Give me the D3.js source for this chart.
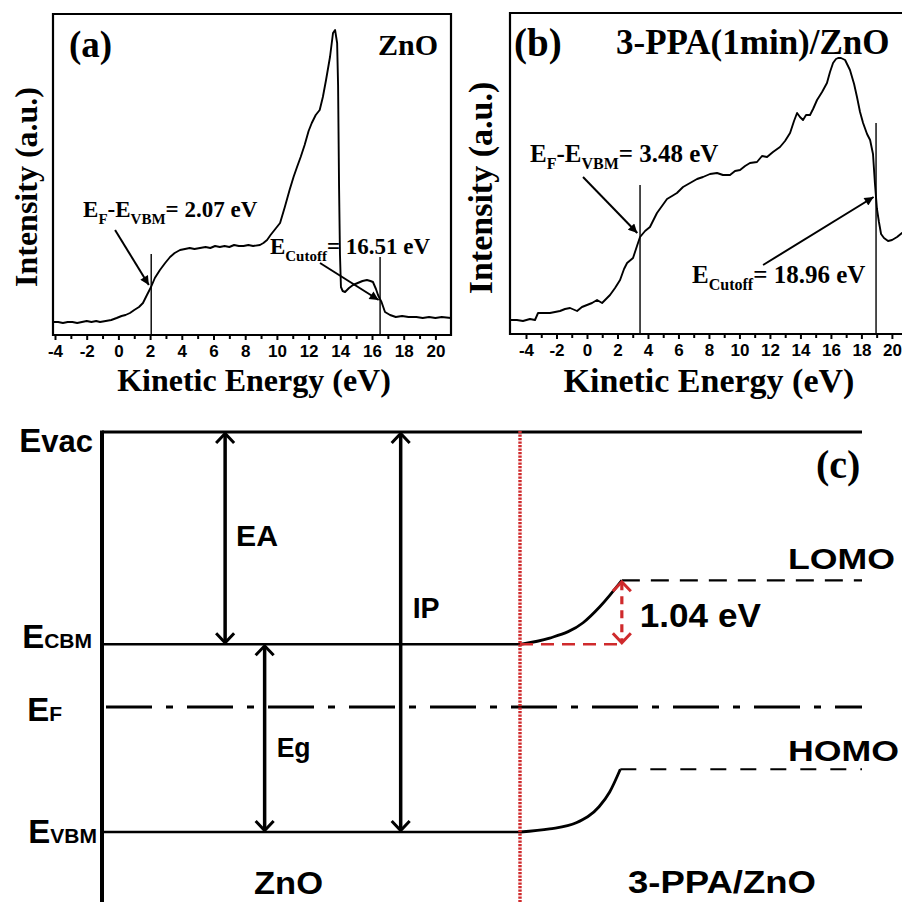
<!DOCTYPE html>
<html><head><meta charset="utf-8">
<script src="https://cdn.jsdelivr.net/npm/d3@7"></script>
<style>body{margin:0;background:#fff}svg{display:block}</style>
</head><body><div id="chart"></div>
<script>
// ---------------- DATA ----------------
const energyA = [-4.13,-3.8,-3.5,-3.2,-2.9,-2.6,-2.3,-2.0,-1.7,-1.4,-1.16,-0.8,-0.45,-0.11,0.2,0.45,0.73,1.0,1.3,1.55,1.8,2.06,2.3,2.62,2.95,3.26,3.55,3.89,4.2,4.5,4.8,5.15,5.5,5.8,6.1,6.4,6.7,7.0,7.3,7.6,7.9,8.2,8.5,8.93,9.15,9.38,9.6,9.9,10.2,10.5,10.8,11.05,11.27,11.5,11.75,12.0,12.2,12.45,12.7,12.9,13.1,13.35,13.54,13.67,13.8,13.86,13.92,13.98,14.04,14.15,14.3,14.55,14.8,15.1,15.4,15.68,15.9,16.06,16.25,16.38,16.5,16.6,16.82,17.14,17.5,17.9,18.3,18.8,19.2,19.6,20.0,20.4,20.98];
const intensityA = [13,13,12,13,13,12,13,14,13,14,13,14,15,17,19,20,22,25,28,32,40,48,57,65,72,78,82,85,86,87,86,87,88,87,89,88,89,88,90,89,89,90,89,90,92,95,100,106,112,128,145,158,168,178,190,204,212,220,225,238,255,278,302,305,292,250,150,80,48,44,43,47,50,52,54,55,54,53,46,40,36,33,23,20,18,19,18,18,17,18,17,18,17];

const energyB = [-5.05,-4.6,-4.2,-3.74,-3.41,-3.21,-2.75,-2.43,-1.77,-1.44,-1.11,-0.65,-0.33,0.0,0.33,0.66,0.99,1.25,1.51,1.84,2.17,2.43,2.63,3.02,3.28,3.48,3.81,4.13,4.59,4.92,5.25,5.58,5.9,6.3,6.76,7.22,7.61,8.07,8.53,8.92,9.38,9.71,10.04,10.37,10.69,11.15,11.48,11.81,12.2,12.66,12.99,13.32,13.58,13.78,13.97,14.17,14.37,14.63,14.83,15.09,15.42,15.74,15.94,16.14,16.33,16.47,16.66,16.93,17.25,17.52,17.71,17.91,18.11,18.37,18.57,18.76,18.89,19.02,19.15,19.29,19.48,19.75,20.01,20.34,20.66,20.93];
const intensityB = [14,14,13,15,14,21,21,21,23,25,26,23,27,29,31,34,31,35,39,46,54,65,71,76,88,97,103,107,121,128,135,138,141,147,151,155,157,160,161,159,159,163,164,168,171,172,178,177,182,187,193,201,213,221,217,214,219,219,225,234,242,251,262,271,275,276,276,274,264,250,237,222,211,200,194,180,150,125,112,100,96,93,94,97,101,100];

const majorTicks = [-4,-2,0,2,4,6,8,10,12,14,16,18,20];
const minorTicks = [-3,-1,1,3,5,7,9,11,13,15,17,19];

// annotation values (eV)
const vbmA = 2.07, cutoffA = 16.51;
const vbmB = 3.48, cutoffB = 18.96;

// Energy-level diagram (panel c), levels in eV below vacuum
const levelEvac = 0, levelECBM = -3.45, levelEF = -4.47, levelEVBM = -6.5;
const levelLOMO = -2.41, levelHOMO = -5.48;
const lomoCurveX = [55, 58.9, 63.3, 65.5, 68.4];
const lomoCurveY = [-3.45, -3.35, -3.10, -2.84, -2.41];
const homoCurveX = [55, 58.9, 62.4, 65.4, 66.8, 68.2];
const homoCurveY = [-6.5, -6.45, -6.35, -6.09, -5.85, -5.48];
const shiftLabel = "1.04 eV";

// ---------------- CHART ----------------
const W = 902, H = 902;
const svg = d3.select("#chart").append("svg").attr("width", W).attr("height", H);
svg.append("rect").attr("width", W).attr("height", H).attr("fill", "#fff");

const SERIF = "'Liberation Serif','Times New Roman',serif";
const SANS = "'Liberation Sans',Arial,sans-serif";

const defs = svg.append("defs");
defs.append("marker").attr("id", "ah").attr("viewBox", "0 0 10 10")
  .attr("refX", 10).attr("refY", 5).attr("markerWidth", 12).attr("markerHeight", 9)
  .attr("markerUnits", "userSpaceOnUse").attr("orient", "auto")
  .append("path").attr("d", "M0,0 L10,5 L0,10 z").attr("fill", "#000");

function subText(g, x, y, parts, size, subSize, shift) {
  const t = g.append("text").attr("x", x).attr("y", y)
    .attr("font-family", SERIF).attr("font-weight", "bold").attr("fill", "#000");
  let prevSub = false;
  parts.forEach(([s, sub]) => {
    const ts = t.append("tspan").text(s).attr("font-size", sub ? subSize : size);
    if (sub && !prevSub) ts.attr("dy", shift);
    if (!sub && prevSub) ts.attr("dy", -shift);
    prevSub = sub;
  });
  return t;
}

function spectrum(cfg) {
  const g = svg.append("g");
  const x = d3.scaleLinear().domain([-4, 20]).range(cfg.xr);
  const y = d3.scaleLinear().domain([0, 321]).range([cfg.bottom, cfg.top]);
  const clipId = "clip" + cfg.id;
  defs.append("clipPath").attr("id", clipId).append("rect")
    .attr("x", cfg.left).attr("y", cfg.top).attr("width", cfg.right - cfg.left).attr("height", cfg.bottom - cfg.top);

  const pts = cfg.energy.map((e, i) => [e, cfg.intensity[i]]);
  g.append("path").datum(pts).attr("clip-path", `url(#${clipId})`)
    .attr("fill", "none").attr("stroke", "#000").attr("stroke-width", 1.9)
    .attr("stroke-linejoin", "round")
    .attr("d", d3.line().x(d => x(d[0])).y(d => y(d[1])));

  g.append("path").attr("fill", "none").attr("stroke", "#000").attr("stroke-width", 2.2)
    .attr("d", `M${cfg.left},${cfg.bottom} L${cfg.left},${cfg.top} L${cfg.right},${cfg.top} L${cfg.right},${cfg.bottom} Z`);

  const ax = g.append("g").attr("transform", `translate(0,${cfg.bottom})`)
    .call(d3.axisBottom(x).tickValues(majorTicks).tickSize(5).tickPadding(5).tickFormat(d => String(d)));
  ax.select(".domain").remove();
  ax.selectAll(".tick line").attr("stroke", "#000").attr("stroke-width", 2);
  ax.selectAll(".tick text").attr("font-family", SANS).attr("font-weight", "bold")
    .attr("font-size", 17).attr("fill", "#000");
  const axm = g.append("g").attr("transform", `translate(0,${cfg.bottom})`)
    .call(d3.axisBottom(x).tickValues(minorTicks).tickSize(4).tickFormat(""));
  axm.select(".domain").remove();
  axm.selectAll(".tick line").attr("stroke", "#000").attr("stroke-width", 2);

  g.append("text").attr("x", cfg.xTitleX).attr("y", cfg.xTitleY).attr("text-anchor", "middle")
    .attr("font-family", SERIF).attr("font-weight", "bold").attr("font-size", cfg.titleSize)
    .text("Kinetic Energy (eV)");
  g.append("text").attr("transform", `translate(${cfg.yTitleX},${cfg.yTitleY}) rotate(-90)`)
    .attr("text-anchor", "middle").attr("font-family", SERIF).attr("font-weight", "bold")
    .attr("font-size", cfg.titleSize).text("Intensity (a.u.)");

  g.append("text").attr("x", cfg.tagX).attr("y", cfg.tagY).attr("font-family", SERIF)
    .attr("font-weight", "bold").attr("font-size", cfg.tagSize).text(cfg.tag);
  g.append("text").attr("x", cfg.nameX).attr("y", cfg.tagY - 2).attr("font-family", SERIF)
    .attr("font-weight", "bold").attr("font-size", cfg.nameSize).text(cfg.name);

  cfg.marks.forEach(m => {
    g.append("line").attr("x1", x(m.e)).attr("x2", x(m.e)).attr("y1", y(m.top)).attr("y2", cfg.bottom)
      .attr("stroke", "#000").attr("stroke-width", 1.4);
  });
  cfg.arrows.forEach(a => {
    g.append("line").attr("x1", x(a.from[0])).attr("y1", y(a.from[1]))
      .attr("x2", x(a.to[0])).attr("y2", y(a.to[1]))
      .attr("stroke", "#000").attr("stroke-width", 2).attr("marker-end", "url(#ah)");
  });
  cfg.labels.forEach(l => {
    subText(g, x(l.at[0]), y(l.at[1]), l.parts, cfg.annSize, cfg.subSize, cfg.subShift);
  });
}

spectrum({
  id: "a", left: 53, right: 451, top: 14, bottom: 335, xr: [55, 435.4],
  energy: energyA, intensity: intensityA,
  xTitleX: 254, xTitleY: 391, yTitleX: 37, yTitleY: 187, titleSize: 32,
  tag: "(a)", tagX: 69, tagY: 57, tagSize: 37, name: "ZnO", nameX: 378, nameSize: 30,
  marks: [{e: vbmA, top: 81}, {e: cutoffA, top: 78}],
  arrows: [{from: [-0.21, 105], to: [1.92, 50]}, {from: [12.72, 72], to: [16.42, 35]}],
  labels: [
    {at: [-2.23, 118], parts: [["E",0],["F",1],["-E",0],["VBM",1],["= " + vbmA.toFixed(2) + " eV",0]]},
    {at: [9.56, 81], parts: [["E",0],["Cutoff",1],["= " + cutoffA.toFixed(2) + " eV",0]]}
  ],
  annSize: 23, subSize: 15, subShift: 7
});

spectrum({
  id: "b", left: 510, right: 920, top: 13, bottom: 334, xr: [526, 891.9],
  energy: energyB, intensity: intensityB,
  xTitleX: 709, xTitleY: 392, yTitleX: 492, yTitleY: 188, titleSize: 34,
  tag: "(b)", tagX: 514, tagY: 56, tagSize: 39, name: "3-PPA(1min)/ZnO", nameX: 616, nameSize: 35,
  marks: [{e: vbmB, top: 149}, {e: cutoffB, top: 211}],
  arrows: [{from: [-0.26, 157], to: [3.3, 101]}, {from: [11.55, 69], to: [18.8, 137]}],
  labels: [
    {at: [-3.74, 172], parts: [["E",0],["F",1],["-E",0],["VBM",1],["= " + vbmB.toFixed(2) + " eV",0]]},
    {at: [6.89, 51], parts: [["E",0],["Cutoff",1],["= " + cutoffB.toFixed(2) + " eV",0]]}
  ],
  annSize: 25, subSize: 16, subShift: 7
});

// ---------------- PANEL (c) ----------------
const gc = svg.append("g");
const xC = d3.scaleLinear().domain([0, 100]).range([102, 862]);
const yC = d3.scaleLinear().domain([0, -6.5]).range([432, 832]);
const RED = "#cf2a2c";
const interfaceX = lomoCurveX[0];
const offsetX = lomoCurveX[lomoCurveX.length - 1];
const homoEndX = homoCurveX[homoCurveX.length - 1];

gc.append("line").attr("x1", xC(0)).attr("x2", xC(0)).attr("y1", yC(levelEvac) - 1.5).attr("y2", H)
  .attr("stroke", "#000").attr("stroke-width", 4);
gc.append("line").attr("x1", xC(0)).attr("x2", xC(100)).attr("y1", yC(levelEvac)).attr("y2", yC(levelEvac))
  .attr("stroke", "#000").attr("stroke-width", 2.8);
[levelECBM, levelEVBM].forEach(l => {
  gc.append("line").attr("x1", xC(0)).attr("x2", xC(interfaceX)).attr("y1", yC(l)).attr("y2", yC(l))
    .attr("stroke", "#000").attr("stroke-width", 2.6);
});
gc.append("line").attr("x1", xC(0) + 4).attr("x2", xC(100)).attr("y1", yC(levelEF)).attr("y2", yC(levelEF))
  .attr("stroke", "#000").attr("stroke-width", 3).attr("stroke-dasharray", "46,14,7,14");
const lineC = d3.line().x(d => xC(d[0])).y(d => yC(d[1])).curve(d3.curveMonotoneX);
gc.append("path").datum(lomoCurveX.map((v, i) => [v, lomoCurveY[i]])).attr("d", lineC)
  .attr("fill", "none").attr("stroke", "#000").attr("stroke-width", 2.8);
gc.append("path").datum(homoCurveX.map((v, i) => [v, homoCurveY[i]])).attr("d", lineC)
  .attr("fill", "none").attr("stroke", "#000").attr("stroke-width", 2.8);
gc.append("line").attr("x1", xC(offsetX)).attr("x2", xC(100)).attr("y1", yC(levelLOMO)).attr("y2", yC(levelLOMO))
  .attr("stroke", "#000").attr("stroke-width", 2.2).attr("stroke-dasharray", "18,11");
gc.append("line").attr("x1", xC(homoEndX)).attr("x2", xC(100)).attr("y1", yC(levelHOMO)).attr("y2", yC(levelHOMO))
  .attr("stroke", "#000").attr("stroke-width", 2.2).attr("stroke-dasharray", "16,14");

function dblArrow(g, xv, l1, l2, color, dash, w) {
  const X = xC(xv), Y1 = yC(l1), Y2 = yC(l2);
  g.append("line").attr("x1", X).attr("x2", X).attr("y1", Y1 + 2).attr("y2", Y2 - 2)
    .attr("stroke", color).attr("stroke-width", w).attr("stroke-dasharray", dash);
  const hw = 9, hl = 11;
  g.append("path").attr("d", `M${X - hw},${Y1 + hl} L${X},${Y1 + 1.5} L${X + hw},${Y1 + hl}`)
    .attr("fill", "none").attr("stroke", color).attr("stroke-width", 3);
  g.append("path").attr("d", `M${X - hw},${Y2 - hl} L${X},${Y2 - 1.5} L${X + hw},${Y2 - hl}`)
    .attr("fill", "none").attr("stroke", color).attr("stroke-width", 3);
}
dblArrow(gc, 16.2, levelEvac, levelECBM, "#000", null, 3.5);
dblArrow(gc, 39.3, levelEvac, levelEVBM, "#000", null, 3.5);
dblArrow(gc, 21.4, levelECBM, levelEVBM, "#000", null, 3.5);

gc.append("line").attr("x1", xC(interfaceX)).attr("x2", xC(offsetX)).attr("y1", yC(levelECBM)).attr("y2", yC(levelECBM))
  .attr("stroke", RED).attr("stroke-width", 2.6).attr("stroke-dasharray", "13,8");
dblArrow(gc, offsetX, levelLOMO, levelECBM, RED, "8,6", 3.2);
gc.append("line").attr("x1", xC(interfaceX)).attr("x2", xC(interfaceX)).attr("y1", yC(levelEvac) - 1).attr("y2", H)
  .attr("stroke", RED).attr("stroke-width", 3.4).attr("stroke-dasharray", "2.2,1.3");

function lvlLabel(xEnd, y, big, small, smallSize) {
  const t = gc.append("text").attr("x", xEnd).attr("y", y).attr("text-anchor", "end")
    .attr("font-family", SANS).attr("font-weight", "bold").attr("fill", "#000");
  t.append("tspan").attr("font-size", 33).text(big);
  t.append("tspan").attr("font-size", smallSize).text(small);
}
lvlLabel(xC(0) - 9, yC(levelEvac) + 20, "E", "vac", 31);
lvlLabel(xC(0) - 10, yC(levelECBM) + 4, "E", "CBM", 21);
lvlLabel(xC(0) - 40, yC(levelEF) + 14, "E", "F", 21);
lvlLabel(xC(0) - 5, yC(levelEVBM) + 11, "E", "VBM", 21);

function plain(x, y, s, size, len, fam) {
  const t = gc.append("text").attr("x", x).attr("y", y).attr("font-family", fam || SANS)
    .attr("font-weight", "bold").attr("font-size", size).attr("fill", "#000").text(s);
  if (len) t.attr("textLength", len).attr("lengthAdjust", "spacingAndGlyphs");
  return t;
}
plain(xC(16.2) + 11, (yC(levelEvac) + yC(levelECBM)) / 2 + 8, "EA", 30, 42);
plain(xC(39.3) + 12, yC(levelECBM) - 26, "IP", 30, 27);
plain(xC(21.4) + 12, (yC(levelECBM) + yC(levelEVBM)) / 2 + 19, "Eg", 28, 34);
plain(xC(offsetX) + 18, yC(levelECBM) - 17, shiftLabel, 34, 121);
plain(788, yC(levelLOMO) - 11, "LOMO", 29, 107);
plain(788, yC(levelHOMO) - 8, "HOMO", 29, 111);
plain(816, 478, "(c)", 40, null, SERIF);
plain(254, 894, "ZnO", 31, 69);
plain(628, 893, "3-PPA/ZnO", 31, 188);
</script>
</body></html>
